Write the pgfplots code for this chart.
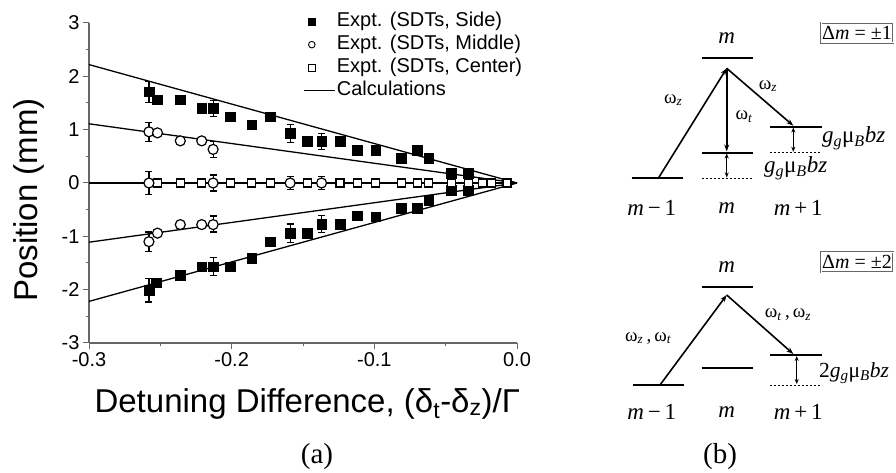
\documentclass[border=0pt]{standalone}
\usepackage{pgfplots}
\pgfplotsset{compat=1.18}
\usepackage{fontspec}
\setmainfont{Liberation Sans}
\newfontfamily\tms{Liberation Serif}
\usetikzlibrary{arrows.meta}
\pgfplotsset{
  legmark/.style={legend image code/.code={\path[draw=none, fill=none] (0pt,-5pt) rectangle (30pt,5pt); \draw[##1] plot coordinates {(8pt,0pt)};}},
  legline/.style={legend image code/.code={\path[draw=none, fill=none] (0pt,-5pt) rectangle (30pt,5pt); \draw[##1] (0pt,0pt) -- (31pt,0pt);}},
}

\begin{document}
\begin{tikzpicture}
\useasboundingbox (0pt,0pt) rectangle (896pt,473pt);
\begin{axis}[
  at={(89pt,130pt)}, anchor=south west,
  scale only axis, width=428pt, height=320pt,
  xmin=-0.3, xmax=0, ymin=-3, ymax=3,
  axis x line=bottom, axis y line=left,
  axis line style={-, black!60, line width=1.2pt},
  tick align=outside,
  tick style={black!60, line width=1pt},
  major tick length=6pt, minor tick length=3.5pt,
  xtick={-0.3,-0.2,-0.1,0}, minor xtick={-0.25,-0.15,-0.05},
  ytick={-3,-2,-1,0,1,2,3}, minor ytick={-2.5,-1.5,-0.5,0.5,1.5,2.5},
  /pgf/number format/assume math mode=true,
  tick label style={font=\fontsize{20}{20}\selectfont, black},
  xticklabel style={/pgf/number format/.cd, fixed, fixed zerofill, precision=1},
  clip=false,
  xlabel={Detuning Difference, (δ\textsubscript{t}-δ\textsubscript{z})/Γ},
  xlabel style={font=\fontsize{33}{33}\selectfont, at={(axis description cs:0.51,-0.216)}, anchor=base},
  ylabel={Position (mm)},
  ylabel style={font=\fontsize{33}{33}\selectfont, at={(axis description cs:-0.14,0.447)}, anchor=center},
  legend style={at={(axis description cs:0.493,1.047)}, anchor=north west, draw=none, fill=none,
    font=\fontsize{20}{20}\selectfont, row sep=0pt,
    nodes={inner sep=1.5pt, text height=15pt, text depth=5pt}},
  legend cell align=left,
]
% legend
\addlegendimage{only marks, mark=square*, mark size=3.3pt, black, legmark}
\addlegendentry{Expt. (SDTs, Side)}
\addlegendimage{only marks, mark=*, mark size=3.3pt, mark options={fill=white, draw=black, line width=0.9pt}, legmark}
\addlegendentry{Expt. (SDTs, Middle)}
\addlegendimage{only marks, mark=square*, mark size=3.3pt, mark options={fill=white, draw=black, line width=0.9pt}, legmark}
\addlegendentry{Expt. (SDTs, Center)}
\addlegendimage{black, line width=1.2pt, legline}
\addlegendentry{Calculations}

% calculations
\addplot[forget plot, black, line width=1.3pt] coordinates {(-0.3,2.22) (0,0)};
\addplot[forget plot, black, line width=1.3pt] coordinates {(-0.3,-2.22) (0,0)};
\addplot[forget plot, black, line width=1.3pt] coordinates {(-0.3,1.11) (0,0)};
\addplot[forget plot, black, line width=1.3pt] coordinates {(-0.3,-1.11) (0,0)};
\addplot[forget plot, black, line width=1.3pt] coordinates {(-0.3,0) (0,0)};

% error bars
\addplot[forget plot, only marks, mark=none, black, line width=1.2pt,
  error bars/.cd, y dir=both, y explicit,
  error bar style={line width=1.2pt, black},
  error mark options={rotate=90, mark size=3.5pt, line width=1.2pt, black}]
coordinates {
 (-0.258,1.71) +- (0,0.20)  (-0.213,1.40) +- (0,0.15)  (-0.159,0.93) +- (0,0.17)  (-0.137,0.78) +- (0,0.15)
 (-0.258,-2.01) +- (0,0.22) (-0.213,-1.57) +- (0,0.17) (-0.159,-0.94) +- (0,0.17) (-0.137,-0.77) +- (0,0.16)
 (-0.258,0.96) +- (0,0.18)  (-0.213,0.63) +- (0,0.15)
 (-0.258,-1.10) +- (0,0.18) (-0.213,-0.77) +- (0,0.15)
 (-0.258,0) +- (0,0.22) (-0.213,0) +- (0,0.15) (-0.159,0) +- (0,0.12) (-0.137,0) +- (0,0.12)
};

% side
\addplot[forget plot, only marks, mark=square*, mark size=4.8pt, black] coordinates {
 (-0.258,1.71) (-0.252,1.56) (-0.236,1.56) (-0.221,1.40) (-0.213,1.40) (-0.201,1.24)
 (-0.186,1.09) (-0.173,1.24) (-0.159,0.93) (-0.147,0.78) (-0.137,0.78) (-0.124,0.78)
 (-0.112,0.62) (-0.099,0.62) (-0.081,0.46) (-0.070,0.62) (-0.062,0.46) (-0.046,0.18) (-0.034,0.18)
 (-0.258,-2.01) (-0.253,-1.87) (-0.236,-1.73) (-0.221,-1.57) (-0.213,-1.57) (-0.201,-1.57)
 (-0.186,-1.41) (-0.173,-1.10) (-0.159,-0.94) (-0.147,-0.94) (-0.137,-0.77) (-0.124,-0.77)
 (-0.112,-0.61) (-0.099,-0.63) (-0.081,-0.47) (-0.070,-0.47) (-0.062,-0.32) (-0.046,-0.14) (-0.034,-0.14)
};
% center
\addplot[forget plot, only marks, mark=square*, mark size=4pt, mark options={fill=white, draw=black, line width=1.2pt}] coordinates {
 (-0.252,0) (-0.236,0) (-0.221,0) (-0.201,0) (-0.186,0) (-0.173,0) (-0.147,0) (-0.124,0)
 (-0.112,0) (-0.099,0) (-0.081,0) (-0.070,0) (-0.062,0) (-0.046,0) (-0.034,0) (-0.024,0)
 (-0.018,0) (-0.007,0)
};
% middle
\addplot[forget plot, only marks, mark=*, mark size=5pt, mark options={fill=white, draw=black, line width=1.2pt}] coordinates {
 (-0.258,0.96) (-0.252,0.94) (-0.236,0.79) (-0.221,0.79) (-0.213,0.63)
 (-0.258,-1.10) (-0.252,-0.94) (-0.236,-0.78) (-0.221,-0.78) (-0.213,-0.78)
 (-0.258,0) (-0.213,0) (-0.159,0) (-0.137,0)
};
\end{axis}

% panel labels
\node[font=\tms\fontsize{29}{29}\selectfont] at (317pt,16pt) {(a)};
\node[font=\tms\fontsize{29}{29}\selectfont] at (720pt,16pt) {(b)};

% diagram (b)
\begin{scope}[x=1pt, y=1pt, line width=1.5pt,
  lvl/.style={line width=2pt},
  dsh/.style={line width=0.9pt, dash pattern=on 2pt off 2pt},
  arr/.style={-{Stealth[length=7pt,width=5pt]}, line width=1.6pt},
  darr/.style={{Stealth[length=5pt,width=4pt]}-{Stealth[length=5pt,width=4pt]}, line width=0.9pt},
  lab/.style={font=\tms\fontsize{23}{23}\selectfont},
  bx/.style={draw=black!60, line width=0.6pt, double=white, double distance=0.8pt, inner sep=0.5pt,
   minimum width=72pt, minimum height=20pt, font=\tms\fontsize{20}{20}\selectfont},
  om/.style={font=\tms\fontsize{19}{19}\selectfont},
  gl/.style={font=\tms\fontsize{23}{23}\selectfont, anchor=west}]
 % upper panel
 \node[lab] at (726.7,434.7) {\textit{m}};
 \draw[lvl] (701.7,414.7) -- (753.3,414.7);
 \node[bx] at (857,440.3) {Δ\textit{m} = ±1};
 \draw[lvl] (631.7,294.7) -- (683.3,294.7);
 \draw[lvl] (701.7,320.3) -- (753.3,320.3);
 \draw[lvl] (770,346.3) -- (821.7,346.3);
 \draw[dsh] (701.7,294.7) -- (753.3,294.7);
 \draw[dsh] (770,320.3) -- (820,320.3);
 \draw[arr] (658.3,294.7) -- (726.7,404.7);
 \draw[arr] (726.7,404.7) -- (726.7,321.5);
 \draw[arr] (726.7,404.7) -- (793.3,347.3);
 \draw[darr] (726.7,319.5) -- (726.7,295.5);
 \draw[darr] (793.3,345.5) -- (793.3,321.2);
 \node[om] at (673.3,373) {ω\textsubscript{\textit{z}}};
 \node[om] at (744,356.3) {ω\textsubscript{\textit{t}}};
 \node[om] at (768,387) {ω\textsubscript{\textit{z}}};
 \node[gl] at (818,335) {\textit{g}\textsubscript{\textit{g}}μ\textsubscript{\textit{B}}\textit{bz}};
 \node[gl] at (760,305) {\textit{g}\textsubscript{\textit{g}}μ\textsubscript{\textit{B}}\textit{bz}};
 \node[lab] at (651.7,264.7) {\textit{m}\,−\,1};
 \node[lab] at (726.7,264.7) {\textit{m}};
 \node[lab] at (798.3,264.7) {\textit{m}\,+\,1};
 % lower panel
 \node[lab] at (726.7,206.3) {\textit{m}};
 \draw[lvl] (701.7,186.3) -- (753.3,186.3);
 \node[bx] at (857,210.8) {Δ\textit{m} = ±2};
 \draw[lvl] (633.3,88) -- (684,88);
 \draw[lvl] (701.7,104.7) -- (753.3,104.7);
 \draw[lvl] (770,118) -- (821.7,118);
 \draw[dsh] (770,88) -- (820,88);
 \draw[arr] (660,88) -- (726.7,178);
 \draw[arr] (726.7,178) -- (793.3,119);
 \draw[darr] (796.7,117) -- (796.7,89);
 \node[om] at (648.3,134.7) {ω\textsubscript{\textit{z}}\,,\,ω\textsubscript{\textit{t}}};
 \node[om] at (788,158) {ω\textsubscript{\textit{t}}\,,\,ω\textsubscript{\textit{z}}};
 \node[gl, font=\tms\fontsize{21.5}{21.5}\selectfont] at (815,99.7) {2\textit{g}\textsubscript{\textit{g}}μ\textsubscript{\textit{B}}\textit{bz}};
 \node[lab] at (651.7,61.3) {\textit{m}\,−\,1};
 \node[lab] at (726.7,61.3) {\textit{m}};
 \node[lab] at (798.3,61.3) {\textit{m}\,+\,1};
\end{scope}
\end{tikzpicture}
\end{document}
